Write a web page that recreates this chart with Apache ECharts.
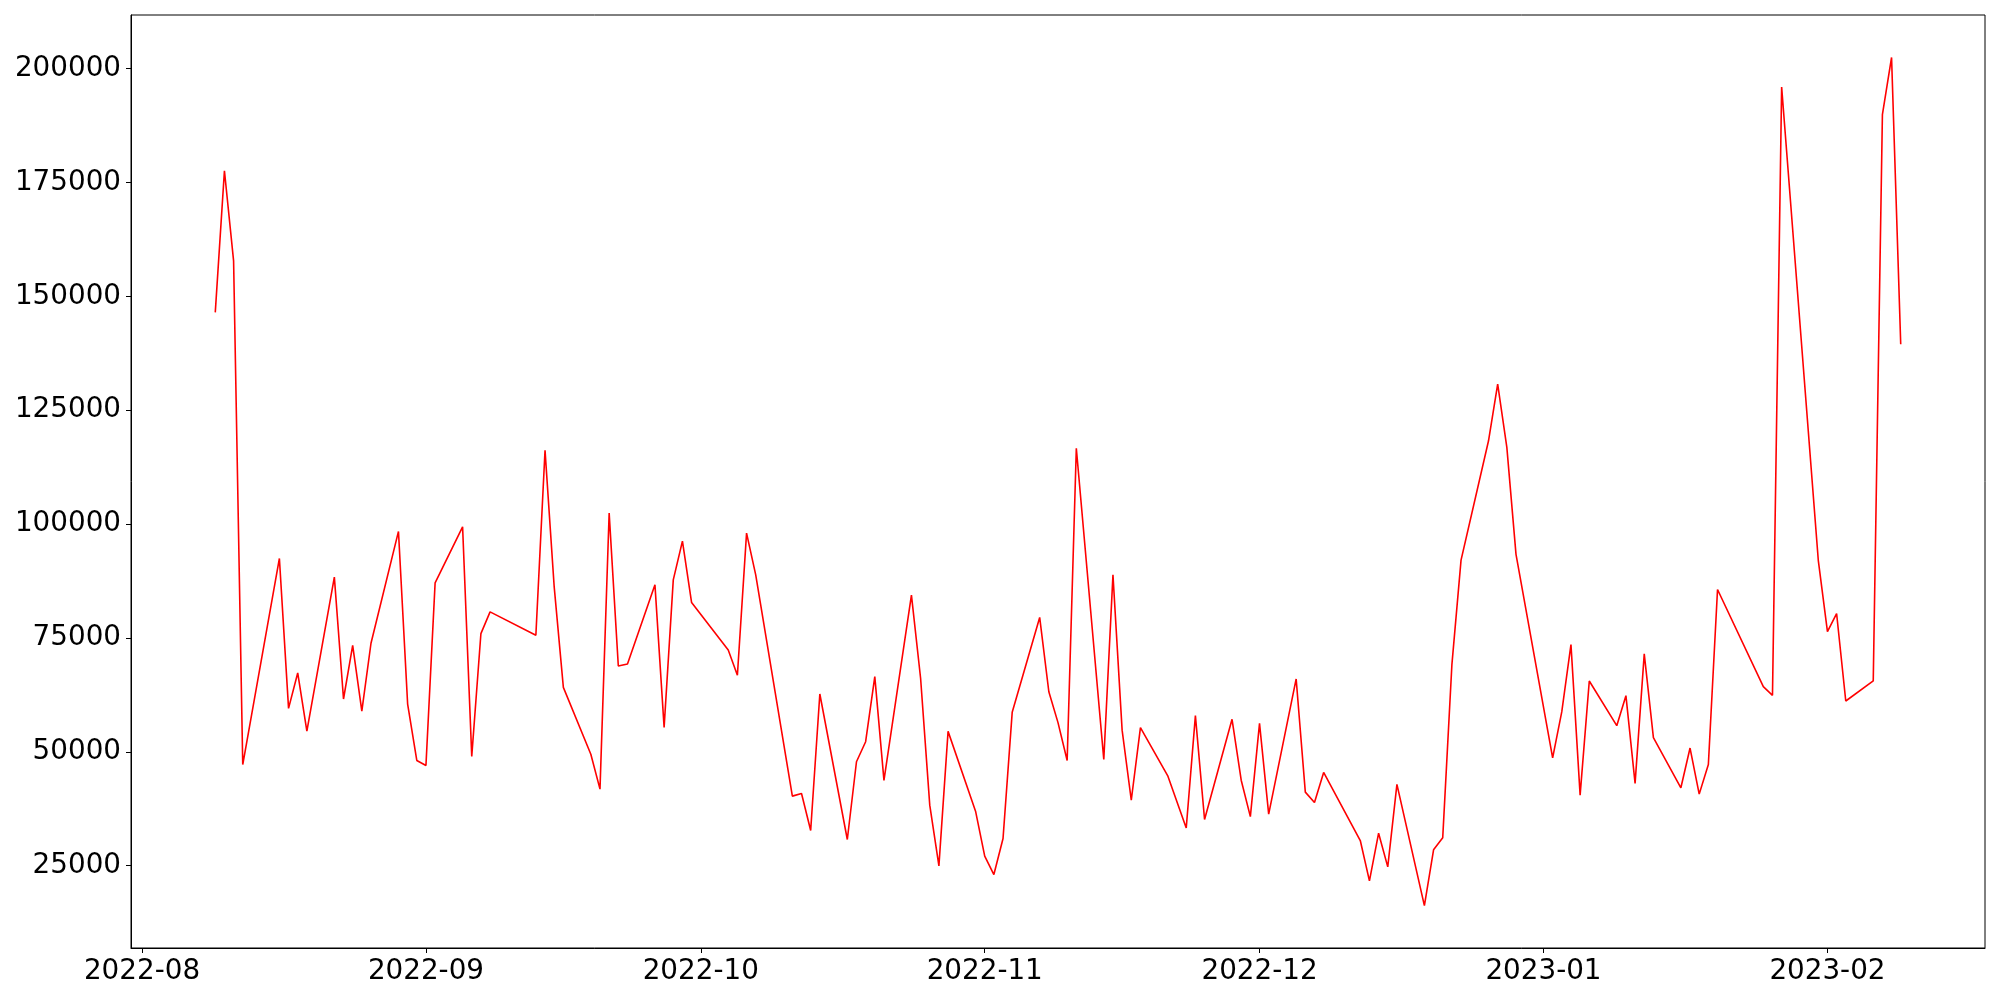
<!DOCTYPE html>
<html>
<head>
<meta charset="utf-8">
<script src="https://cdn.jsdelivr.net/npm/echarts@6/dist/echarts.min.js"></script>
<style>
html,body{margin:0;padding:0;background:#fff;}
#chart{width:2000px;height:1000px;}
</style>
</head>
<body>
<div id="chart"></div>
<script>
// ---- data ----
const dates = [
 '2022-08-09','2022-08-10','2022-08-11','2022-08-12','2022-08-16','2022-08-17','2022-08-18','2022-08-19',
 '2022-08-22','2022-08-23','2022-08-24','2022-08-25','2022-08-26','2022-08-29','2022-08-30','2022-08-31',
 '2022-09-01','2022-09-02','2022-09-05','2022-09-06','2022-09-07','2022-09-08','2022-09-13','2022-09-14',
 '2022-09-15','2022-09-16','2022-09-19','2022-09-20','2022-09-21','2022-09-22','2022-09-23','2022-09-26',
 '2022-09-27','2022-09-28','2022-09-29','2022-09-30','2022-10-04','2022-10-05','2022-10-06','2022-10-07',
 '2022-10-11','2022-10-12','2022-10-13','2022-10-14','2022-10-17','2022-10-18','2022-10-19','2022-10-20',
 '2022-10-21','2022-10-24','2022-10-25','2022-10-26','2022-10-27','2022-10-28','2022-10-31','2022-11-01',
 '2022-11-02','2022-11-03','2022-11-04','2022-11-07','2022-11-08','2022-11-09','2022-11-10','2022-11-11',
 '2022-11-14','2022-11-15','2022-11-16','2022-11-17','2022-11-18','2022-11-21','2022-11-23','2022-11-24',
 '2022-11-25','2022-11-28','2022-11-29','2022-11-30','2022-12-01','2022-12-02','2022-12-05','2022-12-06',
 '2022-12-07','2022-12-08','2022-12-12','2022-12-13','2022-12-14','2022-12-15','2022-12-16','2022-12-19',
 '2022-12-20','2022-12-21','2022-12-22','2022-12-23','2022-12-26','2022-12-27','2022-12-28','2022-12-29',
 '2023-01-02','2023-01-03','2023-01-04','2023-01-05','2023-01-06','2023-01-09','2023-01-10','2023-01-11',
 '2023-01-12','2023-01-13','2023-01-16','2023-01-17','2023-01-18','2023-01-19','2023-01-20','2023-01-25',
 '2023-01-26','2023-01-27','2023-01-31','2023-02-01','2023-02-02','2023-02-03','2023-02-06','2023-02-07',
 '2023-02-08','2023-02-09'
];
const values = [
 146500,177600,157800,47200,92450,59540,67310,54550,
 88350,61590,73390,58950,73830,98390,60490,48100,
 47000,87100,99410,48980,75960,80720,75600,116200,
 86200,64150,49470,41800,102420,68830,69290,86660,
 55360,87760,96260,82780,72370,66800,98020,88860,
 40260,40850,32710,62690,30730,47810,52210,66500,
 43710,84390,66140,38280,24940,54480,36960,27070,
 23040,30950,58660,79500,63180,56400,48080,116660,
 48300,88850,54750,39350,55300,44630,33260,57940,
 35130,57140,43760,35760,56220,36300,65990,41140,
 38870,45470,30510,21640,32120,24720,42830,16220,
 28460,31100,69070,92080,118300,130730,116850,93360,
 48660,58800,73540,40480,65550,55730,62320,43050,
 71490,53090,42090,50820,40700,47220,85630,64300,
 62400,196000,92050,76400,80360,61150,65550,189900,
 202490,139500
];
const yTicks = [25000, 50000, 75000, 100000, 125000, 150000, 175000, 200000];
const xTickLabels = ['2022-08','2022-09','2022-10','2022-11','2022-12','2023-01','2023-02'];

// ---- build ----
function parseLocal(s){ const p=s.split('-').map(Number); return Date.UTC(p[0], p[1]-1, p[2] || 1); }
const seriesData = dates.map((d,i)=>[parseLocal(d), values[i]]);
const xs = seriesData.map(p=>p[0]);
const xMin0 = Math.min(...xs), xMax0 = Math.max(...xs);
const xPad = (xMax0 - xMin0) * 0.05;
const yMin0 = Math.min(...values), yMax0 = Math.max(...values);
const yPad = (yMax0 - yMin0) * 0.05;
const xTicks = xTickLabels.map(parseLocal);
const tickLabelByValue = {};
xTicks.forEach((t,i)=>{ tickLabelByValue[t] = xTickLabels[i]; });

const font = 'DejaVu Sans';
const chart = echarts.init(document.getElementById('chart'), null, {renderer:'canvas'});
chart.setOption({
  animation: false,
  backgroundColor: '#ffffff',
  grid: {left:131, right:15, top:15, bottom:52, show:true, borderColor:'#000', borderWidth:1, backgroundColor:'transparent'},
  xAxis: {
    type: 'value',
    min: xMin0 - xPad,
    max: xMax0 + xPad,
    axisLine: {show:true, onZero:false, lineStyle:{color:'#000', width:1}},
    axisTick: {show:true, inside:false, length:5, lineStyle:{color:'#000', width:1}, customValues: xTicks},
    axisLabel: {
      customValues: xTicks,
      margin: 10,
      fontFamily: font, fontSize: 27.8, color: '#000',
      formatter: function(v){ return tickLabelByValue[v] !== undefined ? tickLabelByValue[v] : ''; }
    },
    splitLine: {show:false}
  },
  yAxis: {
    type: 'value',
    min: yMin0 - yPad,
    max: yMax0 + yPad,
    axisLine: {show:true, onZero:false, lineStyle:{color:'#000', width:1}},
    axisTick: {show:true, inside:false, length:5, lineStyle:{color:'#000', width:1}, customValues: yTicks},
    axisLabel: {
      customValues: yTicks,
      margin: 10,
      fontFamily: font, fontSize: 27.8, color: '#000',
      formatter: function(v){ return String(Math.round(v)); }
    },
    splitLine: {show:false}
  },
  series: [{
    type: 'line',
    data: seriesData,
    showSymbol: false,
    symbol: 'none',
    lineStyle: {color:'#ff0000', width:1.6},
    itemStyle: {color:'#ff0000'}
  }]
});
</script>
</body>
</html>
